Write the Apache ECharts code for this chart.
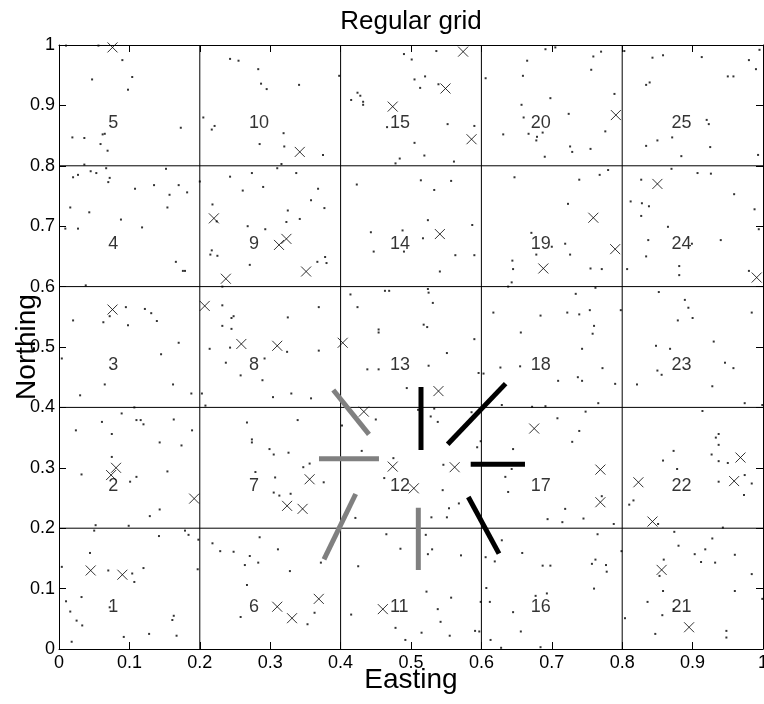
<!DOCTYPE html>
<html>
<head>
<meta charset="utf-8">
<script src="https://cdn.jsdelivr.net/npm/echarts@6/dist/echarts.min.js"></script>
<style>html,body{margin:0;padding:0;background:#fff}#c{width:764px;height:704px}</style>
</head>
<body>
<div id="c"></div>
<script>
// ---------- data ----------
const tickLabels = ['0','0.1','0.2','0.3','0.4','0.5','0.6','0.7','0.8','0.9','1'];
const gridLines = [0.2, 0.4, 0.6, 0.8];
const cellLabels = ['1','2','3','4','5','6','7','8','9','10','11','12','13','14','15','16','17','18','19','20','21','22','23','24','25'];
const cellLabelX = [0.07,0.07,0.07,0.07,0.07,0.27,0.27,0.27,0.27,0.27,0.47,0.47,0.47,0.47,0.47,0.67,0.67,0.67,0.67,0.67,0.87,0.87,0.87,0.87,0.87];
const cellLabelY = [0.07,0.27,0.47,0.67,0.87,0.07,0.27,0.47,0.67,0.87,0.07,0.27,0.47,0.67,0.87,0.07,0.27,0.47,0.67,0.87,0.07,0.27,0.47,0.67,0.87];

const crossPoints = [
[0.076,0.996],[0.220,0.713],[0.3125,0.669],[0.323,0.679],[0.237,0.613],[0.076,0.562],[0.207,0.568],[0.259,0.505],[0.310,0.502],
[0.081,0.300],[0.074,0.288],[0.192,0.249],[0.324,0.237],[0.045,0.130],[0.090,0.123],[0.310,0.070],[0.331,0.051],
[0.342,0.823],[0.574,0.989],[0.549,0.928],[0.474,0.898],[0.586,0.844],[0.351,0.625],[0.541,0.687],[0.403,0.507],
[0.791,0.884],[0.759,0.714],[0.790,0.662],[0.688,0.630],[0.850,0.770],[0.991,0.615],
[0.675,0.365],[0.769,0.297],[0.769,0.243],[0.968,0.317],[0.959,0.278],[0.823,0.276],[0.843,0.211],[0.856,0.131],[0.895,0.036],
[0.539,0.427],[0.433,0.393],[0.474,0.302],[0.504,0.266],[0.562,0.301],[0.356,0.281],[0.346,0.232],[0.369,0.083],[0.460,0.066]
];

const dotPoints = [
[0.010,0.999],[0.056,0.999],[0.090,0.975],[0.047,0.943],[0.104,0.947],[0.098,0.926],[0.173,0.863],[0.019,0.847],[0.036,0.846],[0.062,0.852],[0.065,0.853],[0.059,0.836],[0.069,0.825],[0.036,0.802],
[0.243,0.977],[0.255,0.974],[0.283,0.960],[0.287,0.936],[0.295,0.927],[0.205,0.880],[0.217,0.860],[0.221,0.866],[0.319,0.854],[0.285,0.836],[0.320,0.832],[0.316,0.803],[0.310,0.796],
[0.020,0.781],[0.027,0.785],[0.045,0.791],[0.053,0.788],[0.067,0.796],[0.072,0.780],[0.070,0.773],[0.152,0.795],[0.108,0.762],[0.135,0.768],[0.170,0.768],[0.182,0.756],[0.157,0.752],[0.154,0.731],[0.016,0.731],[0.043,0.723],[0.088,0.711],[0.009,0.696],[0.027,0.696],[0.118,0.698],[0.166,0.641],[0.176,0.626],[0.179,0.626],[0.038,0.602],
[0.200,0.774],[0.243,0.782],[0.274,0.788],[0.261,0.759],[0.290,0.765],[0.218,0.736],[0.325,0.726],[0.323,0.707],[0.268,0.700],[0.293,0.695],[0.217,0.660],[0.215,0.653],[0.225,0.651],[0.271,0.636],[0.232,0.600],[0.224,0.708],
[0.095,0.566],[0.072,0.551],[0.122,0.563],[0.131,0.556],[0.139,0.543],[0.020,0.544],[0.063,0.541],[0.098,0.536],[0.170,0.507],
[0.232,0.569],[0.248,0.551],[0.245,0.548],[0.325,0.549],[0.232,0.535],[0.245,0.530],[0.243,0.499],[0.214,0.497],
[0.004,0.481],[0.145,0.488],[0.065,0.438],[0.162,0.438],[0.030,0.420],[0.188,0.423],[0.107,0.400],
[0.324,0.492],[0.237,0.474],[0.292,0.481],[0.258,0.453],[0.289,0.445],[0.203,0.423],[0.304,0.417],[0.330,0.423],[0.208,0.403],
[0.089,0.390],[0.061,0.376],[0.110,0.379],[0.116,0.379],[0.120,0.372],[0.163,0.380],[0.024,0.362],[0.075,0.356],[0.189,0.362],[0.143,0.342],[0.174,0.337],[0.075,0.318],[0.032,0.289],[0.154,0.294],[0.101,0.277],[0.110,0.285],[0.143,0.231],[0.129,0.220],[0.052,0.205],[0.099,0.204],
[0.267,0.375],[0.274,0.347],[0.274,0.342],[0.299,0.331],[0.305,0.322],[0.326,0.325],[0.279,0.293],[0.307,0.284],[0.305,0.259],[0.313,0.254],[0.329,0.257],
[0.050,0.196],[0.142,0.187],[0.179,0.196],[0.184,0.189],[0.198,0.181],[0.044,0.159],[0.070,0.130],[0.104,0.125],[0.107,0.111],[0.120,0.134],[0.004,0.136],[0.197,0.132],[0.032,0.086],[0.010,0.079],[0.016,0.062],[0.025,0.047],[0.033,0.039],[0.072,0.069],[0.163,0.055],[0.161,0.048],[0.167,0.022],[0.128,0.025],[0.092,0.020],[0.018,0.012],
[0.285,0.185],[0.218,0.175],[0.229,0.162],[0.248,0.161],[0.271,0.154],[0.311,0.165],[0.264,0.139],[0.283,0.143],[0.328,0.129],[0.267,0.106],[0.258,0.053],
[0.398,0.949],[0.341,0.934],[0.375,0.818],
[0.490,0.985],[0.501,0.976],[0.536,0.990],[0.505,0.943],[0.520,0.948],[0.513,0.929],[0.539,0.935],[0.415,0.909],[0.424,0.921],[0.428,0.916],[0.432,0.906],[0.432,0.901],[0.466,0.864],[0.552,0.869],[0.590,0.866],[0.505,0.838],[0.519,0.817],[0.484,0.812],[0.478,0.804],[0.561,0.807],
[0.665,0.974],[0.659,0.949],[0.606,0.945],[0.657,0.901],[0.660,0.880],[0.667,0.853],[0.631,0.852],
[0.337,0.788],[0.368,0.762],[0.358,0.743],[0.377,0.730],[0.342,0.712],[0.367,0.641],[0.378,0.649],[0.380,0.639],
[0.423,0.769],[0.514,0.776],[0.557,0.775],[0.533,0.760],[0.524,0.710],[0.587,0.702],[0.443,0.690],[0.488,0.693],[0.517,0.680],[0.447,0.658],[0.490,0.658],[0.563,0.652],[0.590,0.652],[0.541,0.625],
[0.647,0.781],[0.644,0.643],[0.645,0.629],[0.643,0.607],[0.638,0.600],
[0.369,0.566],
[0.414,0.587],[0.463,0.593],[0.469,0.593],[0.524,0.596],[0.525,0.590],[0.531,0.573],[0.424,0.566],[0.454,0.529],[0.454,0.524],[0.518,0.537],[0.523,0.533],[0.590,0.513],
[0.617,0.557],[0.656,0.524],
[0.691,0.993],[0.705,0.996],[0.759,0.981],[0.770,0.989],[0.756,0.959],[0.789,0.919],[0.698,0.912],[0.724,0.886],[0.776,0.857],[0.687,0.855],[0.679,0.848],[0.678,0.842],[0.726,0.832],[0.729,0.823],[0.755,0.828],[0.690,0.815],
[0.803,0.990],[0.843,0.979],[0.858,0.983],[0.913,0.980],[0.980,0.975],[0.995,0.992],[0.990,0.960],[0.950,0.948],[0.958,0.948],[0.834,0.934],[0.839,0.938],[0.920,0.876],[0.923,0.869],[0.871,0.847],[0.850,0.842],[0.834,0.833],[0.925,0.831],[0.884,0.816],[0.993,0.818],
[0.739,0.777],[0.768,0.785],[0.780,0.793],[0.723,0.737],[0.671,0.689],[0.700,0.666],[0.719,0.671],[0.726,0.653],[0.678,0.653],[0.755,0.630],[0.771,0.629],[0.762,0.598],
[0.870,0.795],[0.907,0.788],[0.926,0.787],[0.827,0.777],[0.959,0.753],[0.812,0.741],[0.828,0.738],[0.838,0.733],[0.988,0.728],[0.827,0.717],[0.865,0.699],[0.994,0.695],[0.837,0.677],[0.940,0.677],[0.899,0.671],[0.834,0.650],[0.807,0.629],[0.881,0.634],[0.881,0.619],[0.980,0.626],
[0.734,0.588],[0.684,0.552],[0.722,0.557],[0.739,0.554],[0.754,0.561],[0.798,0.561],[0.760,0.535],[0.758,0.522],[0.743,0.497],
[0.852,0.591],[0.889,0.578],[0.894,0.565],[0.900,0.548],[0.879,0.544],[0.984,0.557],[0.930,0.509],[0.848,0.502],[0.868,0.497],
[0.772,0.465],[0.709,0.444],[0.737,0.450],[0.743,0.444],[0.790,0.439],[0.672,0.401],[0.691,0.402],[0.766,0.407],
[0.946,0.474],[0.958,0.465],[0.850,0.461],[0.856,0.454],[0.821,0.438],[0.928,0.435],[0.974,0.407],[0.999,0.404],
[0.748,0.393],[0.708,0.382],[0.739,0.361],[0.729,0.343],[0.771,0.253],[0.719,0.232],[0.694,0.215],[0.715,0.210],[0.745,0.216],[0.788,0.207],
[0.914,0.394],[0.937,0.356],[0.933,0.350],[0.937,0.338],[0.873,0.328],[0.927,0.322],[0.858,0.312],[0.937,0.311],[0.950,0.308],[0.878,0.298],[0.974,0.288],[0.984,0.274],[0.937,0.277],[0.973,0.255],[0.810,0.239],[0.816,0.246],[0.851,0.207],[0.943,0.201],
[0.765,0.190],[0.799,0.162],[0.687,0.138],[0.698,0.138],[0.757,0.141],[0.762,0.148],[0.777,0.139],[0.778,0.128],[0.760,0.100],[0.677,0.088],[0.693,0.092],[0.684,0.003],
[0.874,0.194],[0.928,0.183],[0.880,0.171],[0.918,0.165],[0.903,0.157],[0.960,0.156],[0.859,0.148],[0.912,0.144],[0.932,0.143],[0.853,0.121],[0.984,0.124],[0.858,0.096],[0.960,0.096],[0.999,0.083],[0.836,0.078],[0.873,0.066],[0.857,0.056],[0.804,0.051],[0.847,0.025],[0.948,0.030],[0.948,0.019],
[0.369,0.494],[0.358,0.415],
[0.551,0.490],[0.525,0.469],[0.438,0.463],[0.454,0.463],[0.494,0.432],[0.510,0.396],[0.533,0.398],
[0.596,0.457],[0.603,0.456],[0.627,0.466],[0.655,0.468],[0.629,0.404],[0.586,0.392],
[0.339,0.379],[0.356,0.307],[0.347,0.301],[0.376,0.276],[0.402,0.370],
[0.450,0.380],[0.430,0.328],[0.475,0.316],[0.462,0.283],[0.528,0.385],[0.538,0.376],[0.546,0.305],[0.545,0.263],[0.568,0.241],[0.554,0.233],[0.529,0.218],[0.551,0.218],[0.421,0.217],[0.594,0.334],[0.599,0.344],
[0.645,0.331],[0.643,0.298],[0.634,0.285],[0.638,0.260],[0.629,0.180],
[0.372,0.143],[0.363,0.060],[0.353,0.041],
[0.465,0.190],[0.485,0.166],[0.425,0.137],[0.521,0.189],[0.530,0.165],[0.524,0.157],[0.571,0.155],[0.522,0.095],[0.557,0.085],[0.538,0.066],[0.415,0.057],[0.542,0.045],[0.478,0.035],[0.515,0.027],[0.492,0.015],[0.555,0.022],
[0.606,0.152],[0.619,0.145],[0.658,0.159],[0.607,0.101],[0.599,0.078],[0.612,0.078],[0.645,0.061],[0.591,0.030],[0.597,0.029],[0.656,0.029],[0.613,0.015],[0.628,0.002]
];

const graySegments = [
[[0.3896,0.4288],[0.4403,0.3554]],
[[0.3693,0.3151],[0.4545,0.3151]],
[[0.4214,0.2566],[0.3764,0.1485]],
[[0.5104,0.2340],[0.5104,0.1308]]
];
const blackSegments = [
[[0.5142,0.4338],[0.5142,0.3295]],
[[0.5521,0.3389],[0.6344,0.4394]],
[[0.5848,0.3058],[0.6619,0.3058]],
[[0.5814,0.2517],[0.6250,0.1579]]
];

// ---------- chart ----------
const FONT = 'Liberation Sans, Arial, Helvetica, sans-serif';
const chart = echarts.init(document.getElementById('c'), null, {renderer:'canvas'});
const fmt = v => tickLabels[Math.round(v * 10)];

function makeAxis(pos, extra) {
  return Object.assign({
    type: 'value', min: 0, max: 1, interval: 0.1, position: pos,
    axisLine: {show: true, onZero: false, lineStyle: {color: '#000', width: 1}},
    axisTick: {show: true, inside: true, length: 7, lineStyle: {color: '#000', width: 1}},
    axisLabel: {show: false},
    splitLine: {show: false},
    nameMoveOverlap: false
  }, extra);
}

const series = [];
gridLines.forEach(v => {
  series.push({type:'line', data:[[v,0],[v,1]], symbol:'none', silent:true, z:1, animation:false,
    lineStyle:{color:'#000', width:1}});
  series.push({type:'line', data:[[0,v],[1,v]], symbol:'none', silent:true, z:1, animation:false,
    lineStyle:{color:'#000', width:1}});
});
series.push({type:'scatter', data: dotPoints, symbol:'rect', symbolSize:2, silent:true, z:2, animation:false,
  itemStyle:{color:'#000'}});
series.push({type:'scatter', data: crossPoints, symbol:'path://M0,0L10,10M10,0L0,10', symbolSize:10, silent:true, z:3, animation:false,
  itemStyle:{color:'none', borderColor:'#000', borderWidth:1}});
series.push({type:'scatter', data: cellLabels.map((t,i)=>({name:t, value:[cellLabelX[i], cellLabelY[i]]})),
  symbolSize:0, silent:true, z:4, animation:false,
  label:{show:true, position:'right', distance:0, formatter:'{b}', color:'#000', fontSize:18, fontFamily:FONT}});
graySegments.forEach(s => series.push({type:'line', data:s, symbol:'none', silent:true, z:5, animation:false,
  lineStyle:{color:'#808080', width:5, cap:'butt'}}));
blackSegments.forEach(s => series.push({type:'line', data:s, symbol:'none', silent:true, z:5, animation:false,
  lineStyle:{color:'#000', width:5, cap:'butt'}}));

chart.setOption({
  animation: false,
  backgroundColor: '#fff',
  grid: {left: 59, right: 1, top: 45, bottom: 55, containLabel: false, outerBoundsMode: 'none'},
  xAxis: [
    makeAxis('bottom', {
      axisLabel: {show: true, formatter: fmt, fontSize: 18, color: '#000', fontFamily: FONT, margin: 5},
      name: 'Easting', nameLocation: 'middle', nameGap: 31,
      nameTextStyle: {fontSize: 28, color: '#000', fontFamily: FONT, verticalAlign: 'middle'}
    }),
    makeAxis('top', {
      name: 'Regular grid', nameLocation: 'middle', nameGap: 10,
      nameTextStyle: {fontSize: 26, color: '#000', fontFamily: FONT, verticalAlign: 'bottom'}
    })
  ],
  yAxis: [
    makeAxis('left', {
      axisLabel: {show: true, formatter: fmt, fontSize: 18, color: '#000', fontFamily: FONT, margin: 4},
      name: 'Northing', nameLocation: 'middle', nameGap: 32,
      nameTextStyle: {fontSize: 28, color: '#000', fontFamily: FONT, verticalAlign: 'middle'}
    }),
    makeAxis('right', {})
  ],
  series: series
});
</script>
</body>
</html>
